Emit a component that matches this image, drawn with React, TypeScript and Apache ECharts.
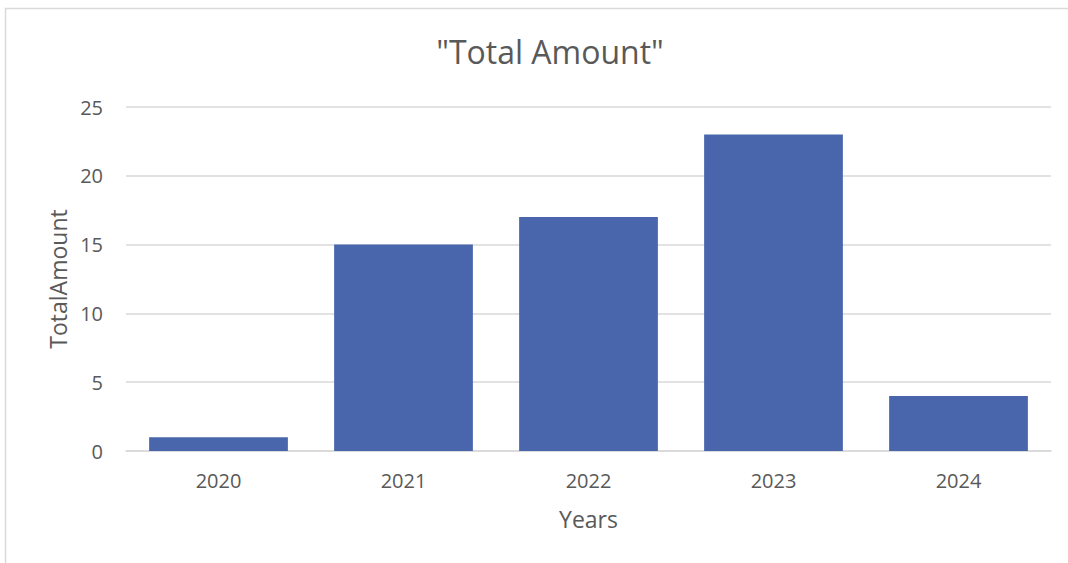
import React, { useEffect, useRef } from "react";
import * as echarts from "echarts";

const categories = ["2020", "2021", "2022", "2023", "2024"];
const values = [1, 15, 17, 23, 4];
const titleText = '"Total Amount"';
const yAxisName = "TotalAmount";
const xAxisName = "Years";

const FONT = "'Open Sans', 'Noto Sans', sans-serif";
const TEXT = "#595959";
const GRID = "#d9d9d9";

export default function App() {
  const ref = useRef<HTMLDivElement>(null);
  useEffect(() => {
    document.body.style.margin = "0";
    const chart = echarts.init(ref.current!, undefined, { renderer: "svg" });
    chart.setOption({
      animation: false,
      backgroundColor: "#ffffff",
      graphic: [
        {
          type: "rect",
          shape: { x: 5.5, y: 8.5, width: 1200, height: 700 },
          style: { fill: "none", stroke: GRID, lineWidth: 1.5 },
          silent: true,
        },
      ],
      title: {
        text: titleText,
        left: 545,
        top: 30,
        textAlign: "center",
        textStyle: { fontFamily: FONT, fontSize: 32, fontWeight: "normal", color: TEXT },
      },
      grid: { left: 126, right: 17, top: 107, bottom: 112, containLabel: false },
      xAxis: {
        type: "category",
        data: categories,
        name: xAxisName,
        nameLocation: "middle",
        nameGap: 56,
        nameTextStyle: { fontFamily: FONT, fontSize: 23, color: TEXT },
        axisLine: { lineStyle: { color: GRID, width: 1.5 } },
        axisTick: { show: false },
        axisLabel: { margin: 19, fontFamily: FONT, fontSize: 20, color: TEXT },
      },
      yAxis: {
        type: "value",
        min: 0,
        max: 25,
        interval: 5,
        name: yAxisName,
        nameLocation: "middle",
        nameGap: 56,
        nameRotate: 90,
        nameTextStyle: { fontFamily: FONT, fontSize: 23, color: TEXT },
        axisLine: { show: false },
        axisTick: { show: false },
        axisLabel: { margin: 23, fontFamily: FONT, fontSize: 20, color: TEXT },
        splitLine: { lineStyle: { color: GRID, width: 1.5 } },
      },
      series: [
        {
          type: "bar",
          data: values,
          barCategoryGap: "25%",
          itemStyle: { color: "#4966ad" },
        },
      ],
    });
    return () => chart.dispose();
  }, []);
  return <div ref={ref} style={{ width: 1068, height: 563 }} />;
}
